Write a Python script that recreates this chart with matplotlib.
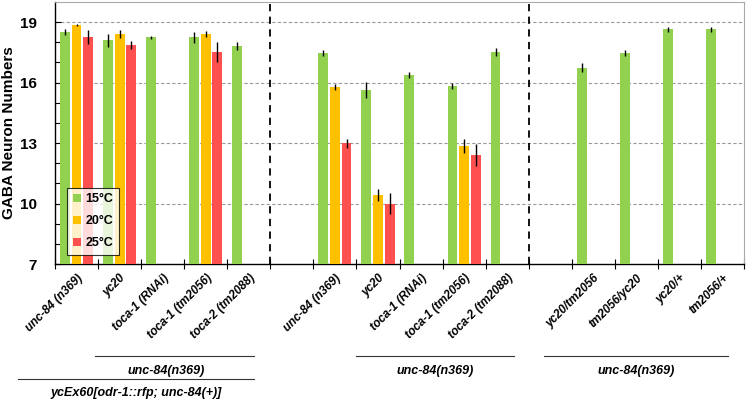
import matplotlib
matplotlib.use("Agg")
import matplotlib.pyplot as plt
from matplotlib.patches import Patch
from matplotlib.lines import Line2D
import numpy as np

plt.rcParams['font.family'] = ['Liberation Sans', 'DejaVu Sans']

# slot index of each genotype (empty slots 5 and 11 separate groups)
slots = [0, 1, 2, 3, 4, 6, 7, 8, 9, 10, 12, 13, 14, 15]
labels = ["unc-84 (n369)", "yc20", "toca-1 (RNAi)", "toca-1 (tm2056)", "toca-2 (tm2088)",
          "unc-84 (n369)", "yc20", "toca-1 (RNAi)", "toca-1 (tm2056)", "toca-2 (tm2088)",
          "yc20/tm2056", "tm2056/yc20", "yc20/+", "tm2056/+"]

# values (None = not measured)
v15 = [18.49, 18.10, 18.24, 18.24, 17.80, 17.45, 15.63, 16.37, 15.83, 17.53, 16.75, 17.45, 18.65, 18.65]
e15 = [0.15, 0.32, 0.07, 0.25, 0.20, 0.15, 0.38, 0.15, 0.15, 0.20, 0.22, 0.15, 0.12, 0.12]
v20 = [18.85, 18.40, None, 18.40, None, 15.79, 10.42, None, 12.85, None, None, None, None, None]
e20 = [0.05, 0.20, None, 0.15, None, 0.15, 0.30, None, 0.35, None, None, None, None, None]
v25 = [18.25, 17.86, None, 17.53, None, 12.98, 10.00, None, 12.39, None, None, None, None, None]
e25 = [0.35, 0.20, None, 0.50, None, 0.20, 0.50, None, 0.55, None, None, None, None, None]

colors = {"15": "#92D050", "20": "#FFC000", "25": "#FF5050"}

fig = plt.figure(figsize=(7.47, 4.01), dpi=100)
ax = fig.add_axes([55/747, 1-264/401, (744-55)/747, (264-2)/401])

w = 0.23
off = 0.27
for vals, errs, dx, key in [(v15, e15, -off, "15"), (v20, e20, 0, "20"), (v25, e25, off, "25")]:
    xs = [s + 0.5 + dx for s, v in zip(slots, vals) if v is not None]
    ys = [v for v in vals if v is not None]
    es = [e for v, e in zip(vals, errs) if v is not None]
    ax.bar(xs, [y - 7 for y in ys], bottom=7, width=w, color=colors[key], zorder=3)
    ax.errorbar(xs, ys, yerr=es, fmt='none', ecolor='black', elinewidth=1, capsize=0, zorder=4)

ax.set_xlim(0, 16)
ax.set_ylim(7, 20)
ax.set_yticks([7, 10, 13, 16, 19])
ax.set_yticks(np.arange(7, 20, 1), minor=True)
ax.set_yticklabels([str(t) for t in [7, 10, 13, 16, 19]], fontsize=11, fontweight='bold')
ax.tick_params(axis='y', which='both', direction='in', length=4, width=0.8, pad=13)
ax.set_ylabel("GABA Neuron Numbers", fontsize=11, fontweight='bold')
ax.yaxis.set_label_coords(-0.057, 0.5)

for g in [10, 13, 16, 19]:
    ax.axhline(g, color='#999999', linestyle=(0, (3, 2)), linewidth=0.8, zorder=1)
for xv in [5, 11]:
    ax.axvline(xv, color='black', linestyle=(0, (4, 3)), linewidth=1.3, zorder=2)

ax.set_xticks(np.arange(0, 17, 1))
ax.set_xticklabels([])
ax.tick_params(axis='x', which='major', direction='inout', length=7, width=0.8)
ax.set_xticks([s + 0.5 for s in slots], minor=True)
ax.set_xticklabels(labels, minor=True, rotation=45, ha='right', va='top',
                   rotation_mode='anchor', fontsize=8.5, fontweight='bold', fontstyle='italic')
ax.tick_params(axis='x', which='minor', length=0, pad=6)

for sp in ['top', 'right']:
    ax.spines[sp].set_color('#aaaaaa')
for sp in ['left', 'bottom']:
    ax.spines[sp].set_color('black')
    ax.spines[sp].set_linewidth(1)

handles = [Patch(facecolor=colors[k], edgecolor='none') for k in ["15", "20", "25"]]
leg = ax.legend(handles, ["15°C", "20°C", "25°C"], loc='lower left',
                bbox_to_anchor=(12/689, 9/262), prop={'weight': 'bold', 'size': 9},
                frameon=True, fancybox=False, handlelength=0.7, handleheight=0.7,
                labelspacing=0.8, borderpad=0.45, handletextpad=0.35, borderaxespad=0)
leg.get_frame().set_edgecolor('black')
leg.get_frame().set_linewidth(0.8)

def hline(x0, x1, y):
    fig.add_artist(Line2D([x0/747, x1/747], [1-y/401, 1-y/401], color='#333333', linewidth=0.8))

def gtext(x, y, s):
    fig.text(x/747, 1-y/401, s, ha='center', va='center', fontsize=9,
             fontweight='bold', fontstyle='italic')

hline(95, 254, 356)
gtext(166, 371, "unc-84(n369)")
hline(18, 254, 379)
gtext(136, 393, "ycEx60[odr-1::rfp; unc-84(+)]")
hline(356, 514, 356)
gtext(435, 371, "unc-84(n369)")
hline(544, 728, 356)
gtext(636, 371, "unc-84(n369)")

fig.savefig("out.png", dpi=100)
